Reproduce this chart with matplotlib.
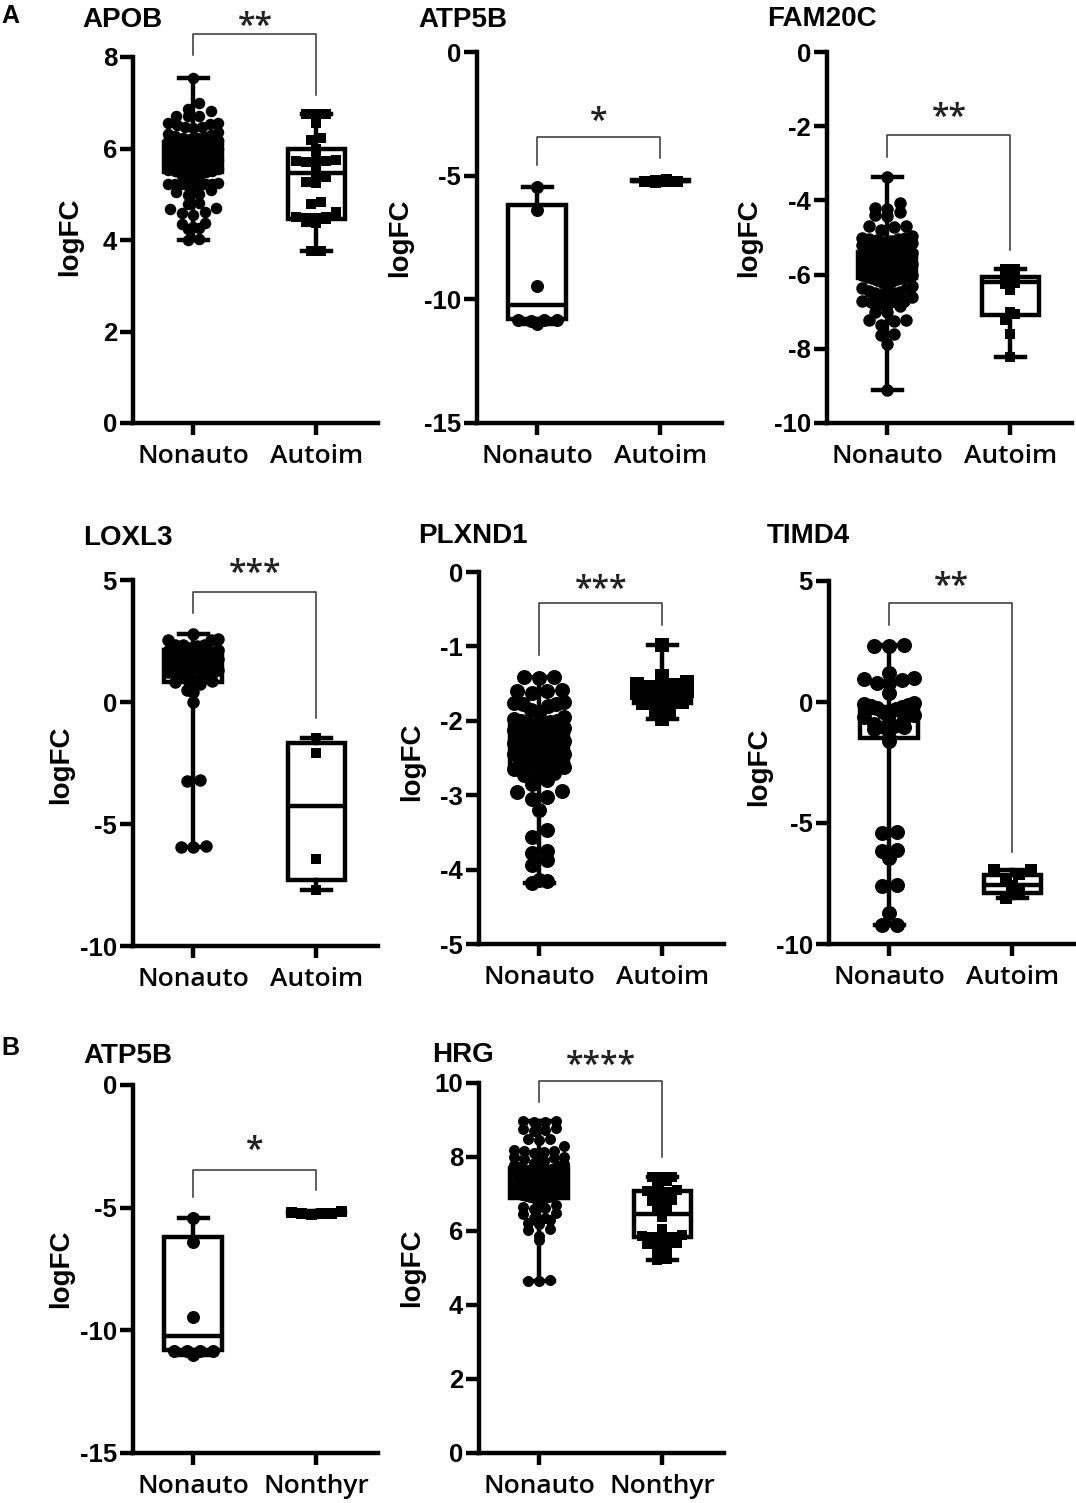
import numpy as np
import matplotlib
matplotlib.use("Agg")
import matplotlib.pyplot as plt
from matplotlib import transforms

plt.rcParams['axes.unicode_minus'] = False

# ======================= DATA =======================
genes = ["APOB", "ATP5B", "FAM20C", "LOXL3", "PLXND1", "TIMD4", "ATP5B", "HRG"]
groups_A = ["Nonauto", "Autoim"]
groups_B = ["Nonauto", "Nonthyr"]
stars = ["**", "*", "**", "***", "***", "**", "*", "****"]
ylabel_text = "logFC"

# y ranges and tick values per panel
ylims = [(0, 8), (-15, 0), (-10, 0), (-10, 5), (-5, 0), (-10, 5), (-15, 0), (0, 10)]
yticks = [[0, 2, 4, 6, 8], [-15, -10, -5, 0], [-10, -8, -6, -4, -2, 0],
          [-10, -5, 0, 5], [-5, -4, -3, -2, -1, 0], [-10, -5, 0, 5],
          [-15, -10, -5, 0], [0, 2, 4, 6, 8, 10]]

# box stats: [min, q1, median, q3, max]
apob_nonauto_box = [4.0, 5.49, 5.85, 6.14, 7.55]
apob_autoim_box = [3.75, 4.45, 5.46, 6.0, 6.76]
atp5b_nonauto_box = [-11.0, -10.81, -10.23, -6.18, -5.44]
atp5b_autoim_box = [-5.25, -5.23, -5.2, -5.16, -5.15]
fam20c_nonauto_box = [-9.12, -6.1, -5.8, -5.38, -3.38]
fam20c_autoim_box = [-8.22, -7.08, -6.2, -6.06, -5.86]
loxl3_nonauto_box = [-5.95, 0.83, 1.45, 2.13, 2.79]
loxl3_autoim_box = [-7.7, -7.3, -4.27, -1.66, -1.49]
plxnd1_nonauto_box = [-4.18, -2.62, -2.32, -2.06, -1.41]
plxnd1_autoim_box = [-1.97, -1.76, -1.63, -1.52, -0.98]
timd4_nonauto_box = [-9.22, -1.5, -0.47, -0.19, 2.36]
timd4_autoim_box = [-8.1, -7.88, -7.56, -7.15, -6.94]
atp5b_b_nonauto_box = [-11.0, -10.81, -10.23, -6.18, -5.44]
atp5b_b_nonthyr_box = [-5.25, -5.23, -5.2, -5.16, -5.15]
hrg_nonauto_box = [4.65, 6.89, 7.29, 7.7, 8.96]
hrg_nonthyr_box = [5.22, 5.85, 6.45, 7.07, 7.47]

# individual points
apob_nonauto = [7.55, 7.0, 6.87, 6.82, 6.72, 6.72, 6.7, 6.55, 6.55, 6.53, 6.52, 6.48, 6.47,
                 6.45, 6.35, 6.32, 6.3, 6.28, 6.25, 6.24, 6.22, 6.2, 6.18, 6.16, 6.15, 6.13,
                 6.12, 6.1, 6.1, 6.08, 6.06, 6.05, 6.04, 6.02, 6.0, 6.0, 5.98, 5.97, 5.95,
                 5.94, 5.92, 5.9, 5.9, 5.88, 5.87, 5.85, 5.85, 5.83, 5.82, 5.8, 5.8, 5.78,
                 5.77, 5.75, 5.74, 5.72, 5.7, 5.7, 5.68, 5.66, 5.65, 5.63, 5.62, 5.6, 5.6,
                 5.58, 5.56, 5.55, 5.53, 5.5, 5.5, 5.48, 5.45, 5.42, 5.4, 5.38, 5.24, 5.23,
                 5.23, 5.22, 5.22, 5.22, 5.21, 5.2, 5.2, 5.1, 5.05, 5.0, 4.98, 4.8, 4.78,
                 4.7, 4.68, 4.62, 4.58, 4.55, 4.37, 4.35, 4.28, 4.27, 4.25, 4.02, 4.0]
apob_autoim = [6.76, 6.76, 6.75, 6.55, 6.22, 6.18, 5.98, 5.76, 5.74, 5.72, 5.72, 5.7, 5.62,
               5.45, 5.38, 5.27, 5.25, 4.83, 4.78, 4.62, 4.5, 4.5, 4.48, 4.47, 4.45, 4.4,
               4.38, 3.77, 3.75]
atp5b_nonauto = [-5.44, -6.39, -9.46, -10.84, -10.84, -10.86, -10.84, -11.0]
atp5b_autoim = [-5.15, -5.17, -5.2, -5.2, -5.22, -5.25]
fam20c_nonauto = [-3.38, -4.08, -4.2, -4.22, -4.3, -4.39, -4.41, -4.68, -4.7, -4.72, -4.8,
                  -4.95, -5.0, -5.02, -5.05, -5.05, -5.07, -5.1, -5.12, -5.15, -5.2, -5.22,
                  -5.25, -5.3, -5.35, -5.38, -5.4, -5.42, -5.45, -5.48, -5.5, -5.52, -5.55,
                  -5.57, -5.6, -5.62, -5.64, -5.66, -5.68, -5.7, -5.72, -5.74, -5.76, -5.78,
                  -5.8, -5.82, -5.84, -5.86, -5.88, -5.9, -5.92, -5.94, -5.96, -5.98, -6.0,
                  -6.02, -6.04, -6.06, -6.08, -6.1, -6.12, -6.15, -6.18, -6.2, -6.25, -6.3,
                  -6.35, -6.4, -6.45, -6.48, -6.5, -6.5, -6.52, -6.55, -6.6, -6.7, -6.72,
                  -6.73, -6.75, -6.8, -6.82, -6.85, -7.0, -7.0, -7.22, -7.23, -7.25, -7.36,
                  -7.6, -7.62, -7.86, -9.12]
fam20c_autoim = [-5.86, -5.86, -5.88, -6.08, -6.22, -6.25, -6.42, -7.0, -7.05, -7.23,
                 -7.59, -8.22]
loxl3_nonauto = [2.79, 2.6, 2.55, 2.54, 2.35, 2.34, 2.33, 2.3, 2.2, 2.15, 2.1, 2.05, 2.0,
                 1.95, 1.9, 1.85, 1.8, 1.75, 1.7, 1.65, 1.6, 1.55, 1.5, 1.45, 1.42, 1.38,
                 1.35, 1.3, 1.25, 1.2, 1.15, 1.1, 1.05, 1.0, 0.95, 0.9, 0.85, 0.8, 0.75,
                 0.5, 0.4, 0.0, -3.2, -3.25, -5.9, -5.93, -5.95]
loxl3_autoim = [-1.49, -2.08, -6.45, -7.7]
plxnd1_nonauto = [-1.41, -1.41, -1.42, -1.58, -1.6, -1.6, -1.62, -1.75, -1.76, -1.77, -1.78,
                  -1.8, -1.85, -1.9, -1.95, -1.98, -2.0, -2.0, -2.02, -2.04, -2.05, -2.07,
                  -2.1, -2.12, -2.14, -2.15, -2.17, -2.2, -2.22, -2.24, -2.25, -2.27, -2.3,
                  -2.32, -2.34, -2.35, -2.37, -2.4, -2.42, -2.44, -2.45, -2.47, -2.5, -2.52,
                  -2.54, -2.55, -2.57, -2.6, -2.6, -2.62, -2.65, -2.7, -2.73, -2.75, -2.76,
                  -2.8, -2.85, -2.95, -2.96, -3.03, -3.05, -3.2, -3.47, -3.56, -3.75, -3.78,
                  -3.87, -3.94, -4.14, -4.15, -4.18]
plxnd1_autoim = [-0.98, -1.4, -1.48, -1.5, -1.52, -1.55, -1.58, -1.6, -1.62, -1.65, -1.68,
                 -1.72, -1.75, -1.76, -1.85, -1.86, -1.97]
timd4_nonauto = [2.36, 2.3, 2.3, 1.18, 1.0, 0.95, 0.9, 0.8, 0.78, 0.36, -0.05, -0.1, -0.12,
                 -0.15, -0.2, -0.25, -0.3, -0.4, -0.5, -0.55, -0.6, -0.7, -0.9, -1.0, -1.02,
                 -1.05, -1.1, -1.5, -1.6, -5.36, -5.4, -6.1, -6.15, -6.46, -7.56, -7.6,
                 -8.73, -9.2, -9.22]
timd4_autoim = [-6.94, -6.96, -7.1, -7.35, -7.6, -7.88, -8.1]
atp5b_b_nonauto = [-5.44, -6.39, -9.46, -10.84, -10.84, -10.86, -10.84, -11.0]
atp5b_b_nonthyr = [-5.15, -5.17, -5.2, -5.2, -5.22, -5.25]
hrg_nonauto = [8.96, 8.96, 8.95, 8.94, 8.78, 8.75, 8.74, 8.7, 8.5, 8.48, 8.47, 8.3, 8.2, 8.17,
               8.15, 8.14, 8.12, 8.0, 7.99, 7.98, 7.95, 7.9, 7.85, 7.8, 7.78, 7.75, 7.72,
               7.7, 7.7, 7.68, 7.66, 7.65, 7.63, 7.62, 7.6, 7.58, 7.56, 7.55, 7.53, 7.52,
               7.5, 7.48, 7.46, 7.45, 7.43, 7.42, 7.4, 7.38, 7.36, 7.35, 7.33, 7.32, 7.3,
               7.3, 7.28, 7.26, 7.25, 7.23, 7.22, 7.2, 7.18, 7.16, 7.15, 7.13, 7.12, 7.1,
               7.08, 7.06, 7.05, 7.03, 7.02, 7.0, 6.98, 6.96, 6.95, 6.93, 6.92, 6.9, 6.88,
               6.86, 6.85, 6.7, 6.65, 6.62, 6.6, 6.5, 6.45, 6.35, 6.34, 6.3, 6.22, 6.2,
               6.05, 6.02, 5.86, 5.76, 4.68, 4.66, 4.65]
hrg_nonthyr = [7.47, 7.47, 7.46, 7.34, 7.32, 7.1, 7.07, 7.06, 7.05, 6.85, 6.8, 6.78, 6.6,
               6.57, 6.38, 6.06, 5.88, 5.86, 5.85, 5.84, 5.82, 5.67, 5.66, 5.65, 5.64, 5.45,
               5.44, 5.23, 5.22]

panel_points = [(apob_nonauto, apob_autoim), (atp5b_nonauto, atp5b_autoim),
                (fam20c_nonauto, fam20c_autoim), (loxl3_nonauto, loxl3_autoim),
                (plxnd1_nonauto, plxnd1_autoim), (timd4_nonauto, timd4_autoim),
                (atp5b_b_nonauto, atp5b_b_nonthyr), (hrg_nonauto, hrg_nonthyr)]
panel_boxes = [(apob_nonauto_box, apob_autoim_box), (atp5b_nonauto_box, atp5b_autoim_box),
               (fam20c_nonauto_box, fam20c_autoim_box), (loxl3_nonauto_box, loxl3_autoim_box),
               (plxnd1_nonauto_box, plxnd1_autoim_box), (timd4_nonauto_box, timd4_autoim_box),
               (atp5b_b_nonauto_box, atp5b_b_nonthyr_box), (hrg_nonauto_box, hrg_nonthyr_box)]
panel_groups = [groups_A] * 6 + [groups_B] * 2

# ======================= LAYOUT (pixels) =======================
W, H = 1076, 1503
# axes rect: left, top, right, bottom
rects = [(133, 57, 378, 423), (477, 52, 722, 423), (827, 52, 1072, 423),
         (133, 580, 378, 946), (479, 572, 724, 944), (829, 581, 1074, 944),
         (133, 1085, 378, 1453), (479, 1083, 724, 1453)]
title_pos = [(82, 27), (418, 27), (767, 26), (83, 545), (418, 543), (767, 543),
             (83, 1063), (432, 1062)]
ylabel_pos = [(70, 237), (400, 238), (749, 238), (61, 765), (412, 762), (759, 767),
              (61, 1269), (412, 1268)]
# bracket: bar y, left leg end, right leg end, star glyph-centre y (data units)
brackets = [(8.5, 8.04, 7.17, 8.84), (-3.44, -4.57, -4.29, -2.47),
            (-2.24, -2.83, -5.34, -1.56), (4.51, 3.65, -0.66, 5.61),
            (-0.42, -1.12, -0.71, -0.13), (4.09, 3.18, -6.2, 5.12),
            (-3.47, -4.55, -4.28, -2.36), (10.05, 9.49, 8.0, 10.7)]
# marker diameters in px (circle, square)
msizes = [(11.5, 10), (13, 11), (12.5, 10), (12.5, 10.5), (15, 13), (15, 12.5), (13, 11),
          (11, 10)]
XLIM = (-0.49, 1.5)
PT = 100 / 72.0

fig = plt.figure(figsize=(W / 100, H / 100), dpi=100)


def fx(x):
    return x / W


def fy(y):
    return 1 - y / H


def swarm(vals, ylim, h_px, d_px, maxoff_px, px_per_x):
    vals = np.asarray(vals, float)
    ypx = (vals - ylim[0]) / (ylim[1] - ylim[0]) * h_px
    row_h = d_px * 0.85
    rows = {}
    for i in np.argsort(ypx):
        rows.setdefault(int(np.floor(ypx[i] / row_h)), []).append(i)
    off = np.zeros(len(vals))
    for idx in rows.values():
        n = len(idx)
        if n == 1:
            continue
        s = min(d_px * 1.0, 2 * maxoff_px / (n - 1))
        pos = [(k - (n - 1) / 2) * s for k in range(n)]
        pos = sorted(pos, key=lambda p: (abs(p), p))
        for p, i in zip(pos, idx):
            off[i] = p
    return off / px_per_x


for k in range(8):
    l, t, r, b = rects[k]
    ax = fig.add_axes([fx(l), fy(b), (r - l) / W, (b - t) / H])

    stats = []
    for bx in panel_boxes[k]:
        stats.append(dict(whislo=bx[0], q1=bx[1], med=bx[2], q3=bx[3], whishi=bx[4],
                          fliers=[]))
    lw = 3.2
    ax.bxp(stats, positions=[0, 1], widths=0.47, showfliers=False, patch_artist=True,
           capwidths=0.24, manage_ticks=False,
           boxprops=dict(facecolor="white", edgecolor="black", linewidth=lw),
           medianprops=dict(color="black", linewidth=lw, solid_capstyle="butt"),
           whiskerprops=dict(color="black", linewidth=lw),
           capprops=dict(color="black", linewidth=lw), zorder=2)

    ax.set_xlim(*XLIM)
    ax.set_ylim(*ylims[k])
    for s in ("top", "right"):
        ax.spines[s].set_visible(False)
    for s in ("left", "bottom"):
        ax.spines[s].set_linewidth(3.2)
    ax.tick_params(axis="y", length=9.5, width=3.2, pad=2)
    ax.tick_params(axis="x", length=8.5, width=3.2, pad=6.5)
    ax.set_yticks(yticks[k])
    ax.set_yticklabels([str(v) for v in yticks[k]], fontfamily="Liberation Sans",
                       fontweight="bold", fontsize=18.5)
    ax.set_xticks([0, 1])
    ax.set_xticklabels(panel_groups[k], fontfamily="Open Sans", fontweight=600,
                       fontsize=19)

    w_px = r - l
    h_px = b - t
    px_per_x = w_px / (XLIM[1] - XLIM[0])
    for gi, (vals, marker) in enumerate(zip(panel_points[k], ["o", "s"])):
        d = msizes[k][gi]
        xo = swarm(vals, ylims[k], h_px, d, 25, px_per_x)
        ax.plot(gi + xo, vals, linestyle="none", marker=marker, markersize=d / PT,
                markerfacecolor="black", markeredgecolor="black", markeredgewidth=0,
                zorder=3, clip_on=False)

    by, yl, yr, sy = brackets[k]
    ax.plot([0, 0, 1, 1], [yl, by, by, yr], color="#333333", lw=1.1, clip_on=False,
            zorder=4)
    fs_star = 23
    tr = transforms.offset_copy(ax.transData, fig=fig, y=-0.55 * fs_star, units="points")
    ax.text(0.5, sy, stars[k], transform=tr, ha="center", va="baseline",
            fontfamily="Open Sans", fontweight=600, fontsize=fs_star, color="#222222",
            clip_on=False)

    tx, ty = title_pos[k]
    fig.text(fx(tx), fy(ty), genes[k], ha="left", va="baseline",
             fontfamily="Liberation Sans", fontweight="bold", fontsize=20)
    lx, ly = ylabel_pos[k]
    fig.text(fx(lx), fy(ly), ylabel_text, rotation=90, ha="center", va="center",
             fontfamily="Liberation Sans", fontweight="bold", fontsize=20)

fig.text(fx(1), fy(23), "A", ha="left", va="baseline", fontfamily="Liberation Sans",
         fontweight="bold", fontsize=18)
fig.text(fx(1), fy(1055), "B", ha="left", va="baseline", fontfamily="Liberation Sans",
         fontweight="bold", fontsize=18)

fig.savefig("out.png", dpi=100)
